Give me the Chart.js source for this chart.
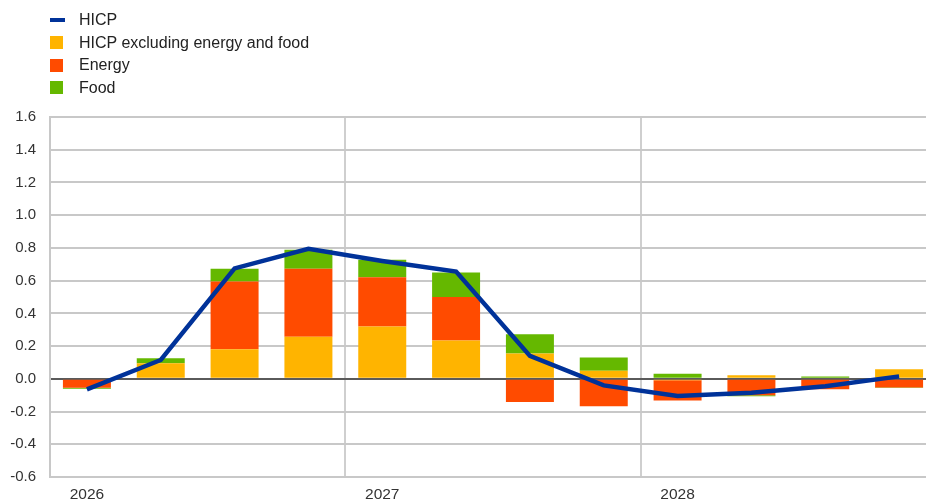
<!DOCTYPE html>
<html>
<head>
<meta charset="utf-8">
<script src="https://cdn.jsdelivr.net/npm/chart.js@4/dist/chart.umd.min.js"></script>
<style>
  html, body { margin: 0; padding: 0; background: #fff; overflow: hidden; }
  body { width: 926px; height: 502px; position: relative; font-family: Arial, "Liberation Sans", sans-serif; }
  #wrap { position: absolute; left: 0; top: 0; width: 936px; height: 502px; }
  #legende { position: absolute; left: 50px; top: 9px; font-size: 16px; color: #222; }
  #legende div { height: 22.5px; line-height: 22.5px; display: flex; align-items: center; }
  #legende span.mk { display: inline-block; margin-right: 16px; }
</style>
</head>
<body>
<div id="wrap"><canvas id="graphique"></canvas></div>
<div id="legende"></div>
<script>
// trimestres 2026 Q1 - 2028 Q4
const trimestres = ["2026 Q1","2026 Q2","2026 Q3","2026 Q4","2027 Q1","2027 Q2","2027 Q3","2027 Q4","2028 Q1","2028 Q2","2028 Q3","2028 Q4"];
const hicp      = [-0.065, 0.115, 0.675, 0.795, 0.72, 0.655, 0.14, -0.04, -0.105, -0.085, -0.045, 0.015];
const horsEnergieAlim = [0.0, 0.095, 0.18, 0.257, 0.32, 0.234, 0.155, 0.05, -0.008, 0.022, 0.0, 0.059];
const energie   = [-0.055, 0.0, 0.415, 0.415, 0.30, 0.266, -0.142, -0.167, -0.125, -0.1, -0.063, -0.053];
const alimentation = [-0.005, 0.03, 0.077, 0.117, 0.107, 0.15, 0.118, 0.08, 0.031, -0.006, 0.014, -0.003];
const ticksY = [1.6, 1.4, 1.2, 1.0, 0.8, 0.6, 0.4, 0.2, 0.0, -0.2, -0.4, -0.6];

const couleurs = { hicp: "#003299", core: "#FFB400", energie: "#FF4B00", alim: "#65B800" };

const data = {
  labels: trimestres,
  datasets: [
    { type: "line", label: "HICP", data: hicp, borderColor: couleurs.hicp, backgroundColor: couleurs.hicp,
      borderWidth: 4.5, pointRadius: 0, tension: 0, stack: "ligne", order: 0 },
    { type: "bar", label: "HICP excluding energy and food", data: horsEnergieAlim, backgroundColor: couleurs.core, stack: "barres", order: 1 },
    { type: "bar", label: "Energy", data: energie, backgroundColor: couleurs.energie, stack: "barres", order: 1 },
    { type: "bar", label: "Food", data: alimentation, backgroundColor: couleurs.alim, stack: "barres", order: 1 },
  ],
};

const config = {
  type: "bar",
  data: data,
  options: {
    responsive: true,
    maintainAspectRatio: false,
    animation: false,
    layout: { padding: { top: 117, left: 0, right: 0, bottom: 0 } },
    datasets: { bar: { barPercentage: 0.65, categoryPercentage: 1.0, borderWidth: 0 } },
    plugins: { legend: { display: false }, tooltip: { enabled: false } },
    scales: {
      x: {
        stacked: true,
        border: { display: false },
        grid: {
          offset: true,
          drawTicks: false,
          lineWidth: 2,
          color: (ctx) => (ctx.index === 4 || ctx.index === 8) ? "#cfcfcf" : "rgba(0,0,0,0)",
        },
        ticks: {
          autoSkip: false,
          maxRotation: 0,
          padding: 8,
          color: "#333",
          font: { family: "Arial, 'Liberation Sans'", size: 15.5 },
          callback: (v, i) => trimestres[i].endsWith("Q1") ? trimestres[i].slice(0, 4) : "",
        },
        afterFit: (s) => { s.height = 25; },
      },
      y: {
        stacked: true,
        min: -0.6,
        max: 1.6,
        afterBuildTicks: (s) => { s.ticks = ticksY.map(v => ({ value: v })); },
        border: { display: true, color: "#c8c8c8", width: 2 },
        grid: {
          drawTicks: false,
          lineWidth: 2,
          color: (ctx) => Math.abs(ctx.tick.value) < 1e-9 ? "#5a5a5a" : "#c8c8c8",
        },
        ticks: {
          padding: 14,
          color: "#333",
          font: { family: "Arial, 'Liberation Sans'", size: 15 },
          callback: (v) => v.toFixed(1),
        },
        afterFit: (s) => { s.width = 50; },
      },
    },
  },
};

const graphique = new Chart(document.querySelector("#graphique"), config);

// legende verticale
const legende = document.querySelector("#legende");
for (const ds of data.datasets) {
  const ligne = document.createElement("div");
  const mk = document.createElement("span");
  mk.className = "mk";
  mk.style.background = ds.type === "line" ? ds.borderColor : ds.backgroundColor;
  mk.style.width = ds.type === "line" ? "15px" : "13px";
  mk.style.height = ds.type === "line" ? "4px" : "13px";
  mk.style.marginRight = ds.type === "line" ? "14px" : "16px";
  ligne.appendChild(mk);
  ligne.appendChild(document.createTextNode(ds.label));
  legende.appendChild(ligne);
}
</script>
</body>
</html>
